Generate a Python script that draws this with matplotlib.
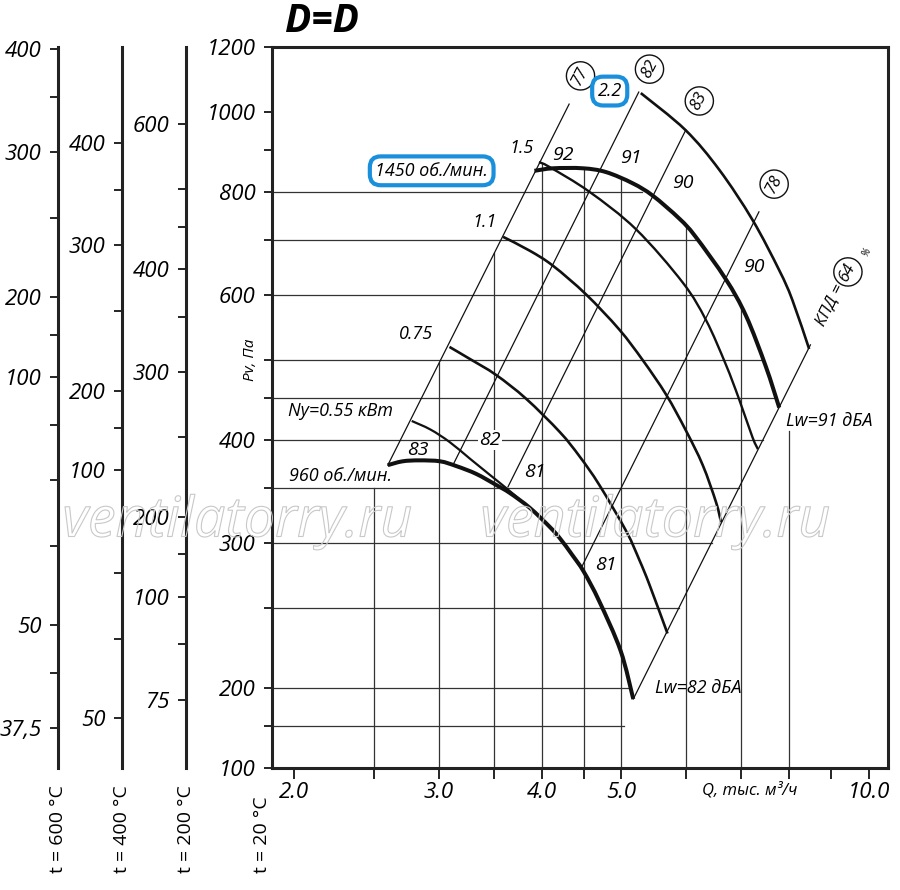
import numpy as np
import matplotlib
matplotlib.use("Agg")
import matplotlib.pyplot as plt
import matplotlib.ticker as mticker
import matplotlib.patheffects as pe
from matplotlib.path import Path
from matplotlib.patches import PathPatch

plt.rcParams['font.family'] = ['Open Sans', 'DejaVu Sans']
plt.rcParams['font.style'] = 'italic'

# fan curves: Q in thousand m3/h, Pv in Pa (t = 20 C)
q_960 = [2.60, 2.71, 2.84, 3.01, 3.15, 3.33, 3.52, 3.66, 3.87, 4.09, 4.21, 4.36, 4.50, 4.70, 4.99, 5.17]
p_960 = [373, 377, 378, 377, 372, 364, 353, 345, 331, 314, 304, 290, 277, 255, 222, 194]

q_055 = [2.78, 2.93, 3.09, 3.27, 3.46, 3.62, 3.76]
p_055 = [422, 412, 398, 380, 363, 350, 339]

q_075 = [3.09, 3.27, 3.52, 3.83, 4.21, 4.45, 4.70, 5.07, 5.26, 5.41, 5.69]
p_075 = [519, 502, 480, 449, 409, 382, 353, 310, 286, 267, 233]

q_11 = [3.59, 3.87, 4.13, 4.53, 4.97, 5.31, 5.67, 5.99, 6.28, 6.52, 6.61]
p_11 = [706, 679, 651, 601, 545, 500, 454, 411, 373, 336, 318]

q_15 = [3.97, 4.09, 4.57, 5.21, 5.94, 6.34, 6.70, 6.95, 7.22, 7.33]
p_15 = [870, 858, 801, 721, 621, 559, 494, 449, 403, 390]

q_1450 = [3.92, 4.13, 4.49, 4.79, 5.16, 5.46, 5.88, 6.15, 6.70, 7.09, 7.49, 7.78]
p_1450 = [849, 855, 855, 846, 820, 792, 743, 707, 627, 566, 492, 438]

q_22 = [5.28, 5.98, 6.58, 7.22, 7.78, 8.07, 8.46]
p_22 = [1055, 952, 851, 740, 643, 592, 516]

# constant-efficiency rays (P ~ Q^2): bottom and top ends
ray_q = [(2.60, 4.32), (3.12, 5.25), (3.64, 5.99), (4.47, 7.35), (5.17, 8.49)]
ray_p = [(373, 1023), (373, 1058), (351, 952), (280, 757), (194, 522)]
eff_labels = ['77', '82', '83', '78', '64']
noise_1450 = ['92', '91', '90', '90']
noise_960 = ['83', '82', '81', '81']

# grid pieces inside the working area
h_grid_p = [800, 700, 600, 500, 450, 400, 350, 300, 250, 200, 180]
h_grid_qend = [5.30, 6.18, 6.89, 7.42, 7.71, 7.44, 6.96, 6.44, 5.88, 5.12, 5.04]
v_grid_q = [2.5, 3.0, 3.5, 4.0, 4.5, 5.0, 6.0, 7.0, 8.0]
v_grid_ptop = [350, 496, 675, 868, 855, 832, 730, 584, 410]

# pressure scales for other temperatures
y_ticks_20 = [1200, 1000, 900, 800, 700, 600, 500, 450, 400, 350, 300, 250, 200, 180, 160]
y_labels_20 = {1200: '1200', 1000: '1000', 800: '800', 600: '600', 400: '400',
               300: '300', 200: '200', 160: '100'}
temps = [600, 400, 200]
t_ticks = {
    600: [400, 350, 300, 250, 200, 180, 160, 140, 120, 100, 80, 70, 60],
    400: [400, 350, 300, 250, 200, 180, 160, 120, 100, 80],
    200: [600, 500, 450, 400, 350, 300, 250, 200, 180, 160, 140, 120],
}
t_labels = {
    600: {400: '400', 300: '300', 200: '200', 160: '100', 80: '50', 60: '37,5'},
    400: {400: '400', 300: '300', 200: '200', 160: '100', 80: '50'},
    200: {600: '600', 400: '400', 300: '300', 200: '200', 160: '100', 120: '75'},
}
x_ticks = [2, 2.5, 3, 3.5, 4, 4.5, 5, 6, 7, 8, 9, 10]
x_labels = {2: '2.0', 3: '3.0', 4: '4.0', 5: '5.0', 10: '10.0'}

W, H = 900, 890
BOT, HT = 1 - 768 / H, 721 / H
BLUE = '#1a8fdc'
GRID = '#333333'
INK = '#111111'


def smooth_curve(ax, q, p, lw):
    # Catmull-Rom through the read points, drawn as Bezier in log-log space
    pts = np.column_stack([np.log10(q), np.log10(p)])
    n = len(pts)
    verts = [pts[0]]
    codes = [Path.MOVETO]
    for i in range(n - 1):
        p0 = pts[i - 1] if i > 0 else pts[i]
        p1, p2 = pts[i], pts[i + 1]
        p3 = pts[i + 2] if i + 2 < n else pts[i + 1]
        verts += [p1 + (p2 - p0) / 6, p2 - (p3 - p1) / 6, p2]
        codes += [Path.CURVE4] * 3
    verts = 10 ** np.array(verts)
    ax.add_patch(PathPatch(Path(verts, codes), fill=False, ec=INK, lw=lw,
                           capstyle='butt', zorder=4))


fig = plt.figure(figsize=(9, 8.9), dpi=100)
ax = fig.add_axes([272 / W, BOT, 616 / W, HT])
ax.set_xscale('log')
ax.set_yscale('log')
ax.set_xlim(1.88, 10.55)
ax.set_ylim(160, 1200)
for s in ax.spines.values():
    s.set_linewidth(2.2)
    s.set_color('#222222')

ax.xaxis.set_minor_locator(mticker.NullLocator())
ax.yaxis.set_minor_locator(mticker.NullLocator())
ax.set_xticks(x_ticks, [x_labels.get(v, '') for v in x_ticks])
ax.set_yticks(y_ticks_20, [y_labels_20.get(v, '') for v in y_ticks_20])
ax.tick_params(axis='x', direction='out', length=8, width=1.2, labelsize=16, pad=2)
ax.tick_params(axis='y', direction='out', length=6, width=1.2, labelsize=16, pad=6)

# grid
for p, qe in zip(h_grid_p, h_grid_qend):
    ax.plot([1.88, qe], [p, p], color=GRID, lw=0.9, zorder=1)
for q, pt in zip(v_grid_q, v_grid_ptop):
    ax.plot([q, q], [160, pt], color=GRID, lw=0.9, zorder=1)

# rays
for (qa, qb), (pa, pb) in zip(ray_q, ray_p):
    ax.plot([qa, qb], [pa, pb], color=INK, lw=0.9, zorder=2)

# curves
smooth_curve(ax, q_055, p_055, 1.6)
smooth_curve(ax, q_075, p_075, 1.9)
smooth_curve(ax, q_11, p_11, 1.9)
smooth_curve(ax, q_15, p_15, 1.7)
smooth_curve(ax, q_22, p_22, 1.9)
smooth_curve(ax, q_960, p_960, 2.9)
smooth_curve(ax, q_1450, p_1450, 2.9)

# efficiency circles along the ray tops
circ_pos = [(4.46, 1107), (5.41, 1128), (6.22, 1032), (7.67, 818)]
for (q, p), lab in zip(circ_pos, eff_labels[:4]):
    ax.text(q, p, lab, fontsize=12, rotation=63, ha='center', va='center',
            bbox=dict(boxstyle='circle,pad=0.3', fc='white', ec=INK, lw=1.0))
ax.text(8.97, 584, 'КПД =', fontsize=12, rotation=63.4, ha='center', va='center')
ax.text(9.43, 640, eff_labels[4], fontsize=12, rotation=63, ha='center', va='center',
        bbox=dict(boxstyle='circle,pad=0.3', fc='white', ec=INK, lw=1.0))
ax.text(9.95, 676, '%', fontsize=7, rotation=63.4, ha='center', va='center')

# noise labels
for (q, p), lab in zip([(4.25, 888), (5.14, 879), (5.94, 821), (7.25, 649)], noise_1450):
    ax.text(q, p, lab, fontsize=14, ha='center', va='center')
for (q, p), lab in zip([(2.83, 389), (3.46, 400), (3.92, 366), (4.79, 282)], noise_960):
    ax.text(q, p, lab, fontsize=14, ha='center', va='center',
            bbox=dict(boxstyle='square,pad=0.05', fc='white', ec='none') if lab == '82' else None)

# power / speed labels
ax.text(3.78, 904, '1.5', fontsize=13, ha='center', va='center')
ax.text(3.41, 736, '1.1', fontsize=13, ha='center', va='center')
ax.text(2.81, 538, '0.75', fontsize=13, ha='center', va='center')
ax.text(2.275, 434, 'Ny=0.55 кВт', fontsize=13, ha='center', va='center')
ax.text(2.28, 362, '960 об./мин.', fontsize=13, ha='center', va='center')
ax.text(2.94, 849, '1450 об./мин.', fontsize=13, ha='center', va='center',
        bbox=dict(boxstyle='round,pad=0.3,rounding_size=0.6', fc='white', ec=BLUE, lw=3))
ax.text(4.84, 1061, '2.2', fontsize=13, ha='center', va='center',
        bbox=dict(boxstyle='round,pad=0.3,rounding_size=0.6', fc='white', ec=BLUE, lw=3))
ax.text(8.95, 422, 'Lw=91 дБА', fontsize=13, ha='center', va='center')
ax.text(6.20, 200, 'Lw=82 дБА', fontsize=13, ha='center', va='center')

# extra pressure scales for hot air
for t, px in zip(temps, [58, 122, 186]):
    f = 293 / (273 + t)
    sub = fig.add_axes([px / W, BOT, 0.0001, HT])
    sub.patch.set_visible(False)
    sub.set_yscale('log')
    sub.set_ylim(160 * f, 1200 * f)
    for k in ('top', 'right', 'bottom'):
        sub.spines[k].set_visible(False)
    sub.spines['left'].set_linewidth(2.2)
    sub.spines['left'].set_color('#222222')
    sub.set_xticks([])
    sub.yaxis.set_minor_locator(mticker.NullLocator())
    sub.set_yticks(t_ticks[t], [t_labels[t].get(v, '') for v in t_ticks[t]])
    sub.tick_params(axis='y', direction='out', length=6, width=1.2, labelsize=16, pad=6)
    fig.text(px / W, 0.019, f't = {t} °C', rotation=90, ha='center', va='bottom',
             fontsize=14, fontstyle='normal')
fig.text(262 / W, 0.019, 't = 20 °C', rotation=90, ha='center', va='bottom',
         fontsize=14, fontstyle='normal')

fig.text(250 / W, 1 - 360 / H, 'Pv, Па', rotation=90, ha='center', va='center', fontsize=11)
fig.text(750 / W, 1 - 790 / H, 'Q, тыс. м³/ч', ha='center', va='center', fontsize=12)
fig.text(285 / W, 1 - 22 / H, 'D=D', ha='left', va='center', fontsize=28, fontweight='bold')

# watermark
for cx in (237, 655):
    fig.text(cx / W, 1 - 522 / H, 'ventilatorry.ru', ha='center', va='center', fontsize=40,
             color='none', zorder=10,
             path_effects=[pe.Stroke(linewidth=0.8, foreground='#c8c8c8')])

fig.savefig('out.png', dpi=100)
